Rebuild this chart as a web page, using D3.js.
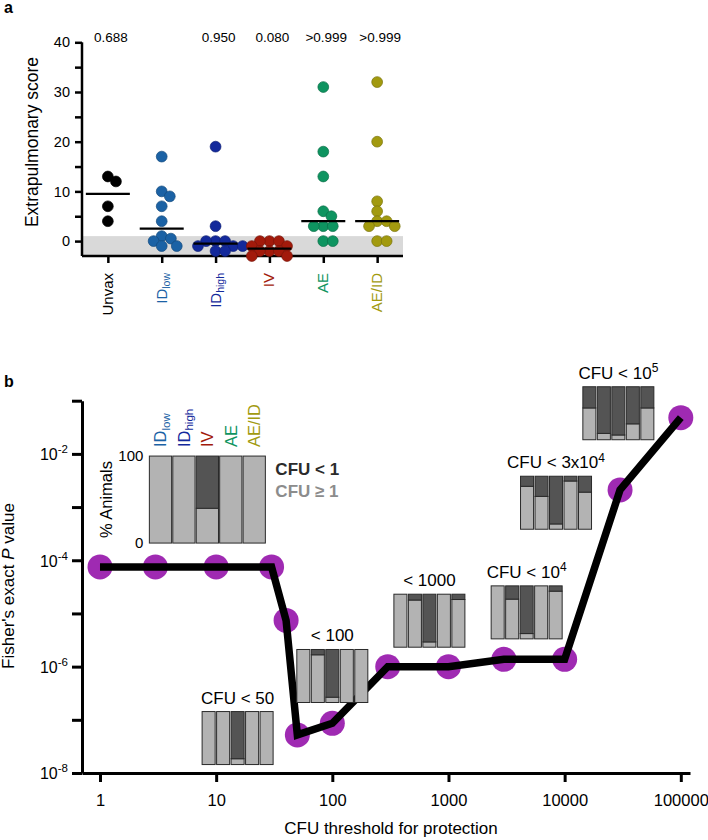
<!DOCTYPE html>
<html>
<head>
<meta charset="utf-8">
<script src="https://cdn.jsdelivr.net/npm/d3@7"></script>
<style>
  body { margin: 0; background: #fff; }
  svg { font-family: "Liberation Sans", Arial, Helvetica, sans-serif; }
</style>
</head>
<body>
<svg id="fig" width="708" height="840"></svg>
<script>
// ---- panel a: extrapulmonary scores per group ----
const groups = ["Unvax", "IDlow", "IDhigh", "IV", "AE", "AE/ID"];
const groupColors = ["#000000", "#1b62a5", "#13299b", "#a21a0b", "#0e9460", "#a29a0f"];
const scores = [
  [13, 12, 7, 4],
  [17, 10, 9, 7, 4, 1, 0.5, 0, -1, -1],
  [19, 3, 0, 0, 0, -1, -1, -1, -2, -2],
  [0, 0, 0, -1, -1, -2, -2, -2, -3, -3],
  [31, 18, 13, 6, 5, 3, 3, 3, 0, 0],
  [32, 20, 8, 6, 4, 4, 3, 3, 0, 0]
];
const pLabels = ["0.688", "", "0.950", "0.080", ">0.999", ">0.999"];

// ---- panel b: Fisher's exact P value vs CFU threshold ----
const thresholds = [1, 3, 10, 30, 40, 50, 100, 300, 1000, 3000, 10000, 30000, 100000];
const pValues = [7.5e-5, 7.5e-5, 7.5e-5, 7.5e-5, 7.4e-6, 5.2e-8, 8.6e-8, 1.0e-6, 1.0e-6, 1.37e-6, 1.37e-6, 2.1e-3, 4.8e-2];
const xTicksB = [1, 10, 100, 1000, 10000, 100000];

// insets: fraction of animals under threshold (dark) per vaccine group
const insetGroups = ["IDlow", "IDhigh", "IV", "AE", "AE/ID"];
const insetTitles = [null, ["CFU < 50"], ["< 100"], ["< 1000"], ["CFU < 10", "4"], ["CFU < 3x10", "4"], ["CFU < 10", "5"]];
const insetProtected = [
  [0, 0, 0.6, 0, 0],
  [0, 0, 0.89, 0, 0],
  [0, 0.1, 0.9, 0, 0],
  [0, 0.11, 0.9, 0, 0.1],
  [0, 0.25, 0.9, 0, 0.1],
  [0.19, 0.38, 0.9, 0.09, 0.3],
  [0.4, 0.88, 0.91, 0.7, 0.4]
];
// where each inset sits (top centre, in CFU / P units)
const insetAnchor = [[8.4, 9.1e-3], [15.3, 1.43e-7], [100, 2.1e-6], [685, 2.3e-5], [4710, 3.3e-5], [8430, 3.8e-3], [29000, 0.183]];

const svg = d3.select("#fig");
const light = "#b3b3b3", dark = "#545454";

function subLabel(sel, name, size) {
  // "IDlow" -> ID + subscript low
  const m = name.match(/^ID(low|high)$/);
  if (m) {
    sel.text("ID");
    sel.append("tspan").attr("font-size", size * 0.7).attr("dy", "0.28em").text(m[1]);
  } else sel.text(name);
}

// ================= panel a =================
const ya = d3.scaleLinear().domain([-3, 40]).range([256, 42.3]);
const xa = d3.scalePoint().domain(groups).range([82, 403]).padding(0.48);

svg.append("text").attr("x", 4).attr("y", 13).attr("font-size", 16).attr("font-weight", "bold").text("a");

svg.append("rect")
  .attr("x", 82).attr("width", 403 - 82)
  .attr("y", ya(1)).attr("height", ya(-3) - ya(1))
  .attr("fill", "#d9d9d9");

const gya = svg.append("g").attr("transform", "translate(82,0)")
  .call(d3.axisLeft(ya).tickValues(d3.range(0, 41, 5)).tickSize(7).tickSizeOuter(0).tickPadding(5)
    .tickFormat(d => d % 10 === 0 ? d : ""));
gya.selectAll("path, line").attr("stroke", "#000").attr("stroke-width", 2.5);
gya.selectAll("text").attr("font-size", 14.5).attr("fill", "#000");
gya.select(".domain").attr("d", `M0,${ya(-3)}V${ya(40)}`);

const gxa = svg.append("g").attr("transform", `translate(0,${ya(-3)})`)
  .call(d3.axisBottom(xa).tickSize(7).tickSizeOuter(0).tickFormat(""));
gxa.selectAll("path, line").attr("stroke", "#000").attr("stroke-width", 2.5);
gxa.select(".domain").attr("d", "M82,0H403");

svg.append("text")
  .attr("transform", "translate(38,142) rotate(-90)")
  .attr("text-anchor", "middle").attr("font-size", 17.5)
  .text("Extrapulmonary score");

groups.forEach((gname, gi) => {
  const t = svg.append("text")
    .attr("transform", `translate(${xa(gname) + 5},273) rotate(-90)`)
    .attr("text-anchor", "end").attr("font-size", 15)
    .attr("fill", groupColors[gi]);
  subLabel(t, gname, 15);
});

function swarm(vals, dist) {
  const order = d3.range(vals.length).sort((a, b) => d3.descending(vals[a], vals[b]));
  const placed = [];
  const off = new Array(vals.length).fill(0);
  order.forEach(i => {
    const py = ya(vals[i]);
    const near = placed.filter(p => Math.abs(p.y - py) < dist);
    const cands = [0];
    near.forEach(p => {
      const dx = Math.sqrt(dist * dist - (p.y - py) ** 2);
      cands.push(p.x + dx, p.x - dx);
    });
    cands.sort((a, b) => Math.abs(a) - Math.abs(b));
    const c = cands.find(c => near.every(p => (p.x - c) ** 2 + (p.y - py) ** 2 >= dist * dist - 0.01));
    off[i] = c;
    placed.push({ x: c, y: py });
  });
  return off;
}

scores.forEach((vals, gi) => {
  const cx = xa(groups[gi]);
  const off = swarm(vals, 9.5);
  const col = d3.color(groupColors[gi]);
  svg.append("g").selectAll("circle")
    .data(vals)
    .join("circle")
    .attr("cx", (d, i) => cx + off[i])
    .attr("cy", d => ya(d))
    .attr("r", 5.4)
    .attr("fill", groupColors[gi])
    .attr("stroke", col.darker(0.8))
    .attr("stroke-width", 0.7);
  const med = d3.median(vals);
  svg.append("line")
    .attr("x1", cx - 22).attr("x2", cx + 22)
    .attr("y1", ya(med)).attr("y2", ya(med))
    .attr("stroke", "#000").attr("stroke-width", 2.3);
  svg.append("text")
    .attr("x", cx + 3).attr("y", 41.5)
    .attr("text-anchor", "middle").attr("font-size", 13.5)
    .text(pLabels[gi]);
});

// ================= panel b =================
const xb = d3.scaleLog().domain([0.7, 1.2e5]).range([82, 690]);
const yb = d3.scaleLog().domain([1e-8, 1e-1]).range([773, 400.7]);

svg.append("text").attr("x", 4).attr("y", 387).attr("font-size", 16).attr("font-weight", "bold").text("b");

const gxb = svg.append("g").attr("transform", "translate(0,773)")
  .call(d3.axisBottom(xb).tickValues(xTicksB).tickFormat(d3.format("d")).tickSize(9).tickSizeOuter(0).tickPadding(12));
gxb.selectAll("path, line").attr("stroke", "#000").attr("stroke-width", 3);
gxb.selectAll("text").attr("font-size", 16.5).attr("fill", "#000");

const decades = d3.range(-8, 0).map(e => Math.pow(10, e));
const gyb = svg.append("g").attr("transform", "translate(82,0)")
  .call(d3.axisLeft(yb).tickValues(decades).tickFormat("").tickSize(10).tickSizeOuter(0));
gyb.selectAll("path, line").attr("stroke", "#000").attr("stroke-width", 3);
gyb.selectAll(".tick").each(function (d) {
  const e = Math.round(Math.log10(d));
  if (e % 2 !== 0) return;
  const t = d3.select(this).append("text")
    .attr("x", -14).attr("dy", "0.36em")
    .attr("text-anchor", "end").attr("font-size", 16).attr("fill", "#000")
    .text("10");
  t.append("tspan").attr("dy", "-0.6em").attr("font-size", 11.5).text(String(e));
});

svg.append("text")
  .attr("transform", "translate(14,586) rotate(-90)")
  .attr("text-anchor", "middle").attr("font-size", 17)
  .call(t => {
    t.append("tspan").text("Fisher's exact ");
    t.append("tspan").attr("font-style", "italic").text("P");
    t.append("tspan").text(" value");
  });

svg.append("text")
  .attr("x", 391).attr("y", 834)
  .attr("text-anchor", "middle").attr("font-size", 17)
  .text("CFU threshold for protection");

// insets
function drawInset(k) {
  const big = k === 0;
  const w = big ? 116 : 71, h = big ? 87 : 53;
  const x0 = xb(insetAnchor[k][0]) - w / 2;
  const y0 = yb(insetAnchor[k][1]);
  const bx = d3.scaleBand().domain(insetGroups).range([x0, x0 + w]).paddingInner(big ? 0.05 : 0.1);
  const by = d3.scaleLinear().domain([0, 1]).range([y0 + h, y0]);
  const g = svg.append("g");
  const fr = insetProtected[k];
  const rows = insetGroups.map((name, i) => ({ name, f: fr[i] }));
  // not protected (light) at the bottom, protected (dark) stacked on top
  g.selectAll("rect.lo").data(rows).join("rect")
    .attr("x", d => bx(d.name)).attr("width", bx.bandwidth())
    .attr("y", d => by(1 - d.f)).attr("height", d => by(0) - by(1 - d.f))
    .attr("fill", light).attr("stroke", "#2a2a2a").attr("stroke-width", 1);
  g.selectAll("rect.hi").data(rows.filter(d => d.f > 0)).join("rect")
    .attr("x", d => bx(d.name)).attr("width", bx.bandwidth())
    .attr("y", by(1)).attr("height", d => by(1 - d.f) - by(1))
    .attr("fill", dark).attr("stroke", "#2a2a2a").attr("stroke-width", 1);

  if (big) {
    g.append("text").attr("x", x0 - 6).attr("y", by(1)).attr("dy", "0.36em")
      .attr("text-anchor", "end").attr("font-size", 15).text("100");
    g.append("text").attr("x", x0 - 6).attr("y", by(0)).attr("dy", "0.36em")
      .attr("text-anchor", "end").attr("font-size", 15).text("0");
    g.append("text")
      .attr("transform", `translate(${x0 - 37},${y0 + h / 2}) rotate(-90)`)
      .attr("text-anchor", "middle").attr("font-size", 16.5).text("% Animals");
    insetGroups.forEach((d, i) => {
      const t = g.append("text")
        .attr("transform", `translate(${bx(d) + bx.bandwidth() / 2 + 6},${y0 - 9}) rotate(-90)`)
        .attr("font-size", 16.5).attr("fill", groupColors[i + 1]);
      subLabel(t, d, 16.5);
    });
    g.append("text").attr("x", x0 + w + 10).attr("y", y0 + 19)
      .attr("font-size", 17).attr("font-weight", "bold").attr("fill", "#2b2b2b").text("CFU < 1");
    g.append("text").attr("x", x0 + w + 10).attr("y", y0 + 41)
      .attr("font-size", 17).attr("font-weight", "bold").attr("fill", "#8c8c8c").text("CFU \u2265 1");
  } else {
    const tt = insetTitles[k];
    const t = g.append("text").attr("x", x0 + w / 2).attr("y", y0 - 8)
      .attr("text-anchor", "middle").attr("font-size", 17).text(tt[0]);
    if (tt[1]) t.append("tspan").attr("dy", "-0.55em").attr("font-size", 12).text(tt[1]);
  }
}

// points under the line
svg.append("g").selectAll("circle")
  .data(thresholds)
  .join("circle")
  .attr("cx", d => xb(d))
  .attr("cy", (d, i) => yb(pValues[i]))
  .attr("r", 12.5)
  .attr("fill", "#9f2ab2");

svg.append("path")
  .datum(thresholds)
  .attr("fill", "none")
  .attr("stroke", "#000")
  .attr("stroke-width", 7.5)
  .attr("d", d3.line().x(d => xb(d)).y((d, i) => yb(pValues[i])));

d3.range(insetAnchor.length).forEach(drawInset);
</script>
</body>
</html>
